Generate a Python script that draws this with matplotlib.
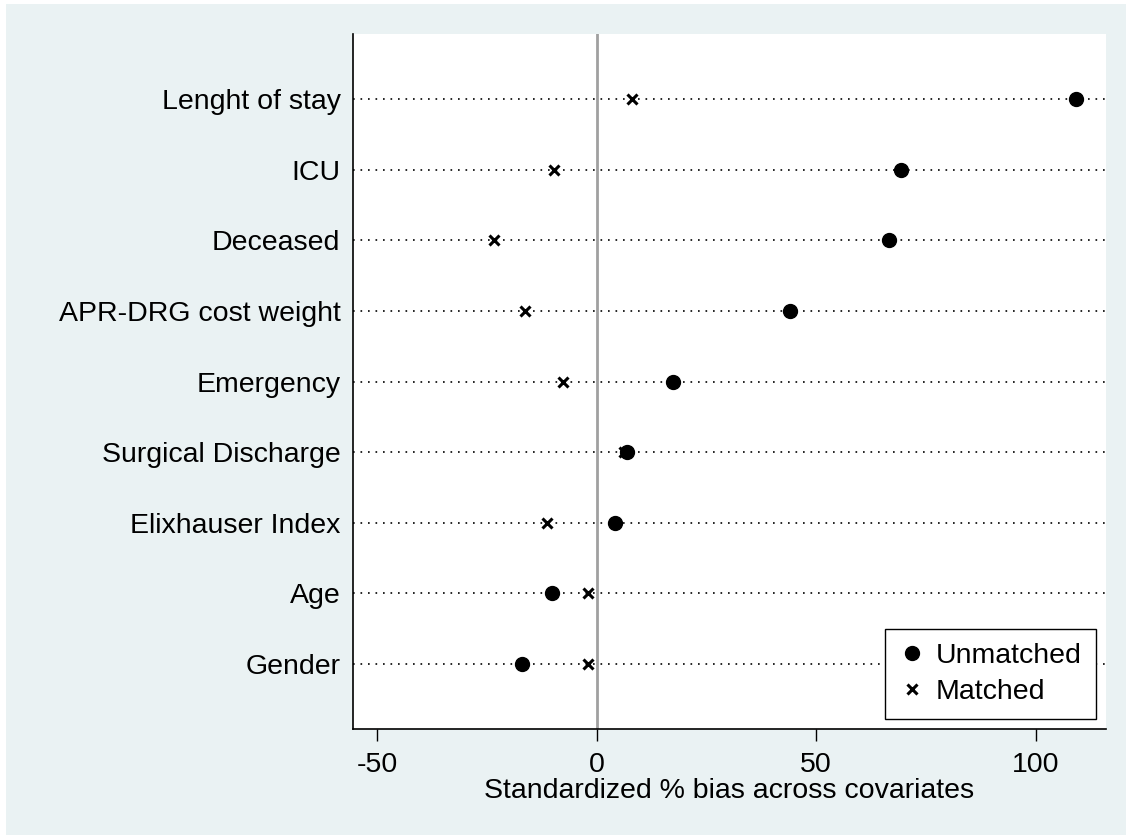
import matplotlib.pyplot as plt
from matplotlib.patches import Rectangle

plt.rcParams['font.family'] = ['Liberation Sans', 'DejaVu Sans']

# covariates from top to bottom
labels = ['Lenght of stay', 'ICU', 'Deceased', 'APR-DRG cost weight', 'Emergency',
          'Surgical Discharge', 'Elixhauser Index', 'Age', 'Gender']
unmatched = [109.2, 69.3, 66.6, 44.0, 17.4, 6.9, 4.2, -10.2, -17.1]
matched = [8.0, -9.7, -23.4, -16.3, -7.7, 6.2, -11.3, -1.9, -2.0]
xticks = [-50, 0, 50, 100]

fig = plt.figure(figsize=(11.32, 8.39), dpi=100, facecolor='white')
# Stata-like light background panel
fig.patches.append(Rectangle((6 / 1132, 4 / 839), 1120 / 1132, 831 / 839,
                             transform=fig.transFigure, facecolor='#EAF2F3',
                             edgecolor='none', zorder=-10))

ax = fig.add_axes([353 / 1132, 110 / 839, 753 / 1132, 695 / 839])
ax.set_facecolor('white')

n = len(labels)
ypos = list(range(n, 0, -1))

for y in ypos:
    ax.axhline(y, color='black', linestyle=(0, (1, 3.5)), linewidth=1.2, zorder=1)
ax.axvline(0, color='#A0A0A0', linewidth=2, zorder=2)

ax.plot(unmatched, ypos, 'o', color='black', markersize=10, linestyle='none',
        label='Unmatched', zorder=3)
ax.plot(matched, ypos, 'x', color='black', markersize=7, markeredgewidth=2.2,
        linestyle='none', label='Matched', zorder=4)

fs = 20.5
ax.set_xlim(-55.5, 116)
ax.set_ylim(0.08, n + 0.92)
ax.set_xticks(xticks)
ax.set_xticklabels([str(t) for t in xticks])
ax.set_yticks(ypos)
ax.set_yticklabels(labels)
ax.tick_params(axis='y', length=0, pad=9, labelsize=fs)
ax.tick_params(axis='x', length=8.6, width=1, direction='out', pad=8, labelsize=fs)
ax.set_xlabel('Standardized % bias across covariates', fontsize=fs, labelpad=0)

for s in ['top', 'right']:
    ax.spines[s].set_visible(False)
for s in ['left', 'bottom']:
    ax.spines[s].set_linewidth(1.2)

leg = ax.legend(loc='lower right', bbox_to_anchor=(0.9867, 0.0144), fontsize=fs,
                frameon=True, fancybox=False, edgecolor='black', framealpha=1,
                handletextpad=0.4, handlelength=0.9, borderpad=0.5,
                labelspacing=0.35, borderaxespad=0)
leg.get_frame().set_linewidth(1)

fig.savefig('out.png', dpi=100, facecolor='white')
